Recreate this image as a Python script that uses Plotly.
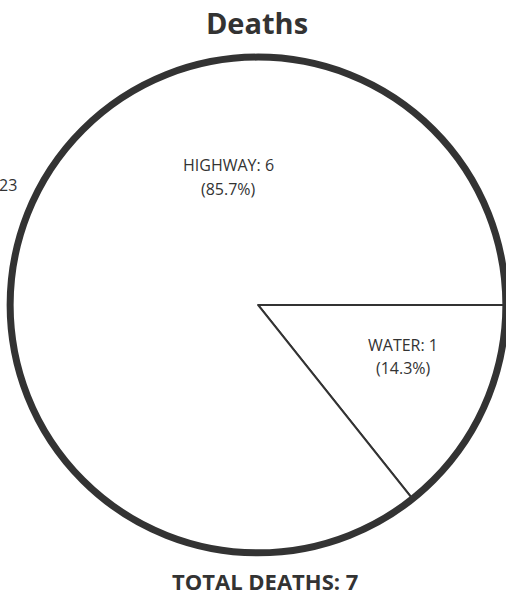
import plotly.graph_objects as go

# ---- data ----
categories = ["WATER", "HIGHWAY"]
deaths = [1, 6]
chart_title = "Deaths"
total_label = "TOTAL DEATHS"
side_number = "23"   # partial label from neighbouring chart at left edge

total = sum(deaths)
percents = [v / total * 100 for v in deaths]

W, H = 506, 598
INK = "#333333"
FONT = "Open Sans"

# label anchor positions in pixels (centre of text lines)
label_pos = {
    "HIGHWAY": (228, 165, 189),
    "WATER": (403, 345, 368),
}

def px(x):
    return x / W

def py(y):
    return 1 - y / H

dom_x = [0.0198, 1.0]
dom_y = [0.0755, 0.9045]

fig = go.Figure()

# slices with thin separators
fig.add_trace(go.Pie(
    labels=categories,
    values=deaths,
    sort=False,
    direction="clockwise",
    rotation=90,
    marker=dict(colors=["white"] * len(categories), line=dict(color=INK, width=2)),
    textinfo="none",
    hoverinfo="label+value+percent",
    showlegend=False,
    domain=dict(x=dom_x, y=dom_y),
))

# thick outer circle
fig.add_trace(go.Pie(
    labels=["total"],
    values=[total],
    sort=False,
    marker=dict(colors=["rgba(0,0,0,0)"], line=dict(color=INK, width=7)),
    textinfo="none",
    hoverinfo="skip",
    showlegend=False,
    domain=dict(x=dom_x, y=dom_y),
))

annotations = []
for cat, v, p in zip(categories, deaths, percents):
    cx, y1, y2 = label_pos[cat]
    annotations.append(dict(
        text=f"{cat}: {v}", x=px(cx), y=py(y1), xref="paper", yref="paper",
        xanchor="center", yanchor="middle", showarrow=False,
        font=dict(family=FONT, size=16, color=INK, weight=500),
    ))
    annotations.append(dict(
        text=f"({p:.1f}%)", x=px(cx), y=py(y2), xref="paper", yref="paper",
        xanchor="center", yanchor="middle", showarrow=False,
        font=dict(family=FONT, size=16, color=INK, weight=500),
    ))

annotations.append(dict(
    text=f"{total_label}: {total}", x=px(265), y=py(581), xref="paper", yref="paper",
    xanchor="center", yanchor="middle", showarrow=False,
    font=dict(family=FONT, size=22, color=INK, weight="bold"),
))
annotations.append(dict(
    text=side_number, x=px(19), y=py(185), xref="paper", yref="paper",
    xanchor="right", yanchor="middle", showarrow=False,
    font=dict(family=FONT, size=16, color=INK, weight=500),
))

fig.update_layout(
    width=W, height=H,
    margin=dict(l=0, r=0, t=0, b=0),
    paper_bgcolor="white",
    plot_bgcolor="white",
    title=dict(
        text=chart_title, x=px(257), y=py(24), xanchor="center", yanchor="middle",
        font=dict(family=FONT, size=29, color=INK, weight="bold"),
    ),
    annotations=annotations,
)

fig.write_html(
    "out.html",
    config={"displayModeBar": False},
    post_script="document.body.style.margin='0';document.body.style.overflow='hidden';",
)
